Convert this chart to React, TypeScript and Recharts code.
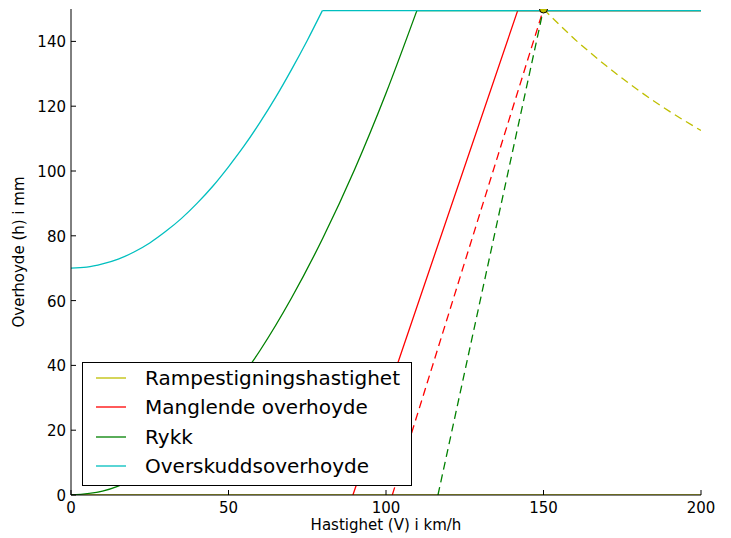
import React from 'react'
import { LineChart, Line, XAxis, YAxis } from 'recharts'

const FONT = '"DejaVu Sans", sans-serif'

const xTicks = [0, 50, 100, 150, 200]
const yTicks = [0, 20, 40, 60, 80, 100, 120, 140]

// Rampestigningshastighet (yellow): flat at 0, dashed falling part after 150
const rampeV = [0, 200]
const rampeH = [0, 0]
const rampeDashV = [150, 155, 160, 165, 170, 175, 180, 185, 190, 195, 200]
const rampeDashH = [150, 145.2, 140.6, 136.4, 132.4, 128.6, 125, 121.6, 118.4, 115.4, 112.5]

// Manglende overhoyde (red)
const manglendeV = [89.5, 141.8, 200]
const manglendeH = [0, 149.5, 149.5]
const manglendeDashV = [102, 150]
const manglendeDashH = [0, 150]

// Rykk (green)
const rykkV = [0, 10, 20, 30, 40, 50, 60, 70, 80, 90, 100, 109.8]
const rykkH = [0, 1.2, 5, 11.2, 19.8, 31, 44.6, 60.8, 79.4, 100.4, 124, 149.5]
const rykkTakV = [109.8, 200]
const rykkTakH = [149.5, 149.5]
const rykkDashV = [116.5, 150]
const rykkDashH = [0, 150]

// Overskuddsoverhoyde (cyan)
const overskuddV = [0, 5, 10, 15, 20, 25, 30, 35, 40, 45, 50, 55, 60, 65, 70, 75, 79.8]
const overskuddH = [70, 70.3, 71.3, 72.8, 75, 77.8, 81.3, 85.3, 90, 95.3, 101.3, 107.8, 115, 122.8, 131.3, 140.3, 149.5]
const overskuddTakV = [79.8, 200]
const overskuddTakH = [149.5, 149.5]

// marker where the dashed lines meet
const punktV = [150]
const punktH = [150]

const legendItems = [
  { name: 'Rampestigningshastighet', color: '#bfbf00' },
  { name: 'Manglende overhoyde', color: '#ff0000' },
  { name: 'Rykk', color: '#008000' },
  { name: 'Overskuddsoverhoyde', color: '#00bfbf' },
]

const pts = (vs: number[], hs: number[]) => vs.map((v, i) => ({ v, h: hs[i] }))

const BottomTick = (props: any) => {
  const { x, y, payload } = props
  return (
    <g>
      <line x1={x} y1={y} x2={x} y2={y - 5} stroke="#000" />
      <text x={x} y={y + 18} textAnchor="middle" fontSize={15} fontFamily={FONT} fill="#000">
        {payload.value}
      </text>
    </g>
  )
}

const LeftTick = (props: any) => {
  const { x, y, payload } = props
  return (
    <g>
      <line x1={x} y1={y} x2={x + 5} y2={y} stroke="#000" />
      <text x={x - 5} y={y + 6} textAnchor="end" fontSize={15} fontFamily={FONT} fill="#000">
        {payload.value}
      </text>
    </g>
  )
}

const TopTick = (props: any) => {
  const { x, y } = props
  return <line x1={x} y1={y} x2={x} y2={y + 5} stroke="#000" />
}

const RightTick = (props: any) => {
  const { x, y } = props
  return <line x1={x} y1={y} x2={x - 5} y2={y} stroke="#000" />
}

const App: React.FC = () => {
  const common = {
    dataKey: 'h',
    dot: false,
    activeDot: false,
    isAnimationActive: false,
    strokeWidth: 1.3,
  } as const

  return (
    <div style={{ position: 'absolute', left: 0, top: 0, width: 731, height: 538, background: '#fff' }}>
      <LineChart width={731} height={538} margin={{ top: 9, right: 30, bottom: 0, left: 0 }}>
        <XAxis
          dataKey="v"
          type="number"
          domain={[0, 200]}
          ticks={xTicks}
          allowDataOverflow
          height={43}
          tickSize={0}
          tickMargin={0}
          tickLine={false}
          axisLine={{ stroke: '#000' }}
          tick={<BottomTick />}
          label={{
            content: () => (
              <text x={386} y={530} textAnchor="middle" fontSize={15} fontFamily={FONT} fill="#000">
                Hastighet (V) i km/h
              </text>
            ),
          }}
        />
        <XAxis
          xAxisId="top"
          dataKey="v"
          type="number"
          orientation="top"
          domain={[0, 200]}
          ticks={xTicks}
          allowDataOverflow
          height={0}
          tickSize={0}
          tickMargin={0}
          tickLine={false}
          axisLine={{ stroke: '#000' }}
          tick={<TopTick />}
        />
        <YAxis
          type="number"
          domain={[0, 150]}
          ticks={yTicks}
          allowDataOverflow
          width={71}
          tickSize={0}
          tickMargin={0}
          tickLine={false}
          axisLine={{ stroke: '#000' }}
          tick={<LeftTick />}
          label={{
            content: () => (
              <text
                x={24}
                y={252}
                transform="rotate(-90 24 252)"
                textAnchor="middle"
                fontSize={15}
                fontFamily={FONT}
                fill="#000"
              >
                Overhoyde (h) i mm
              </text>
            ),
          }}
        />
        <YAxis
          yAxisId="right"
          type="number"
          orientation="right"
          domain={[0, 150]}
          ticks={yTicks}
          allowDataOverflow
          width={0}
          tickSize={0}
          tickMargin={0}
          tickLine={false}
          axisLine={{ stroke: '#000' }}
          tick={<RightTick />}
        />

        <Line {...common} data={pts(rampeV, rampeH)} type="linear" stroke="#bfbf00" />
        <Line {...common} data={pts(rampeDashV, rampeDashH)} type="monotone" stroke="#bfbf00" strokeDasharray="8 5" />
        <Line {...common} data={pts(manglendeV, manglendeH)} type="linear" stroke="#ff0000" />
        <Line {...common} data={pts(manglendeDashV, manglendeDashH)} type="linear" stroke="#ff0000" strokeDasharray="8 5" />
        <Line {...common} data={pts(rykkV, rykkH)} type="monotone" stroke="#008000" />
        <Line {...common} data={pts(rykkTakV, rykkTakH)} type="linear" stroke="#008000" />
        <Line {...common} data={pts(rykkDashV, rykkDashH)} type="linear" stroke="#008000" strokeDasharray="8 5" />
        <Line {...common} data={pts(overskuddV, overskuddH)} type="monotone" stroke="#00bfbf" />
        <Line {...common} data={pts(overskuddTakV, overskuddTakH)} type="linear" stroke="#00bfbf" />
        <Line
          {...common}
          data={pts(punktV, punktH)}
          stroke="none"
          dot={{ r: 4, fill: '#bfbf00', stroke: '#000', strokeWidth: 1 }}
        />
      </LineChart>

      <div
        style={{
          position: 'absolute',
          left: 82,
          top: 362,
          width: 330,
          height: 124,
          boxSizing: 'border-box',
          border: '1px solid #000',
          background: '#fff',
          fontFamily: FONT,
          fontSize: 20,
          color: '#000',
        }}
      >
        {legendItems.map((item, i) => (
          <div
            key={item.name}
            style={{ position: 'absolute', left: 0, top: 1 + i * 29.3, height: 29, width: '100%' }}
          >
            <svg width={30} height={4} style={{ position: 'absolute', left: 13, top: 12 }}>
              <line x1={0} y1={2} x2={30} y2={2} stroke={item.color} strokeWidth={1.3} />
            </svg>
            <div style={{ position: 'absolute', left: 62, top: 0, lineHeight: '29px', whiteSpace: 'nowrap' }}>
              {item.name}
            </div>
          </div>
        ))}
      </div>
    </div>
  )
}

export default App
